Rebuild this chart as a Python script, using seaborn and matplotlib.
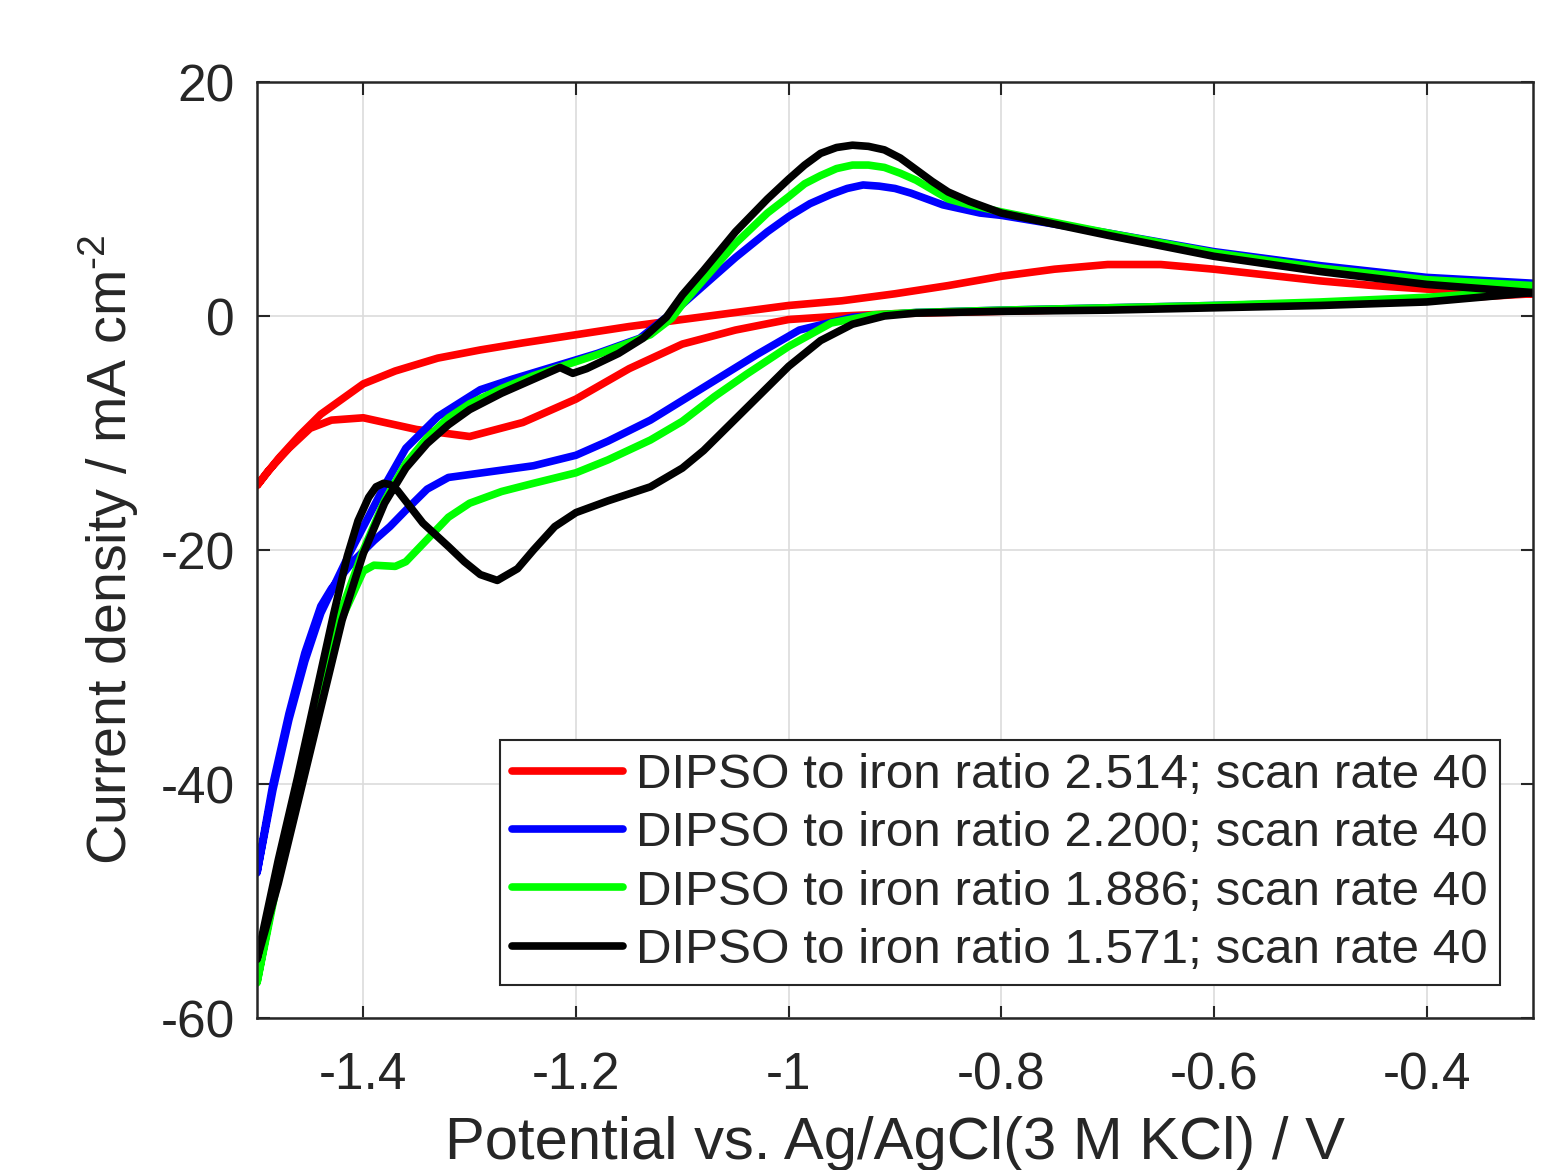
import pandas as pd
import seaborn as sns
import matplotlib.pyplot as plt

# 데이터 - 전위 / V, 전류밀도 / mA cm^-2
# 각 곡선: -0.3 V 에서 -1.5 V 로 갔다가 다시 -0.3 V 로 돌아오는 순서
red_E = [-0.30, -0.40, -0.50, -0.60, -0.70, -0.80, -0.90, -0.95, -1.00, -1.05, -1.10, -1.15,
         -1.20, -1.25, -1.30, -1.35, -1.40, -1.43, -1.45, -1.47, -1.49, -1.50,
         -1.48, -1.46, -1.44, -1.42, -1.40, -1.37, -1.33, -1.29, -1.25, -1.20, -1.15, -1.10,
         -1.05, -1.00, -0.95, -0.90, -0.85, -0.80, -0.75, -0.70, -0.65, -0.60, -0.55, -0.50,
         -0.45, -0.40, -0.35, -0.30]
red_j = [1.9, 1.4, 1.0, 0.8, 0.6, 0.4, 0.2, 0.0, -0.3, -1.2, -2.4, -4.5,
         -7.1, -9.1, -10.3, -9.7, -8.7, -8.9, -9.6, -11.3, -13.3, -14.5,
         -12.2, -10.2, -8.4, -7.1, -5.8, -4.7, -3.6, -2.9, -2.3, -1.6, -0.9, -0.3,
         0.3, 0.9, 1.3, 1.9, 2.6, 3.4, 4.0, 4.4, 4.4, 4.0, 3.5, 3.0,
         2.6, 2.3, 2.1, 1.9]

blue_E = [-0.30, -0.40, -0.50, -0.60, -0.70, -0.80, -0.88, -0.94, -0.99, -1.03, -1.08, -1.13,
          -1.17, -1.20, -1.24, -1.28, -1.32, -1.34, -1.36, -1.375, -1.39, -1.41, -1.43, -1.44,
          -1.455, -1.47, -1.485, -1.50,
          -1.485, -1.47, -1.455, -1.44, -1.413, -1.38, -1.36, -1.33, -1.29, -1.26, -1.22, -1.18,
          -1.14, -1.115, -1.10, -1.08, -1.05, -1.02, -1.00, -0.98, -0.96, -0.945, -0.93, -0.915,
          -0.90, -0.885, -0.87, -0.855, -0.84, -0.82, -0.80, -0.70, -0.60, -0.50, -0.40, -0.30]
blue_j = [2.0, 1.5, 1.1, 0.9, 0.7, 0.5, 0.3, -0.1, -1.2, -3.3, -6.1, -8.9,
          -10.7, -11.9, -12.8, -13.3, -13.8, -14.8, -16.6, -18.0, -19.2, -21.0, -23.3, -24.8,
          -28.8, -34.0, -40.0, -47.6,
          -40.5, -34.5, -29.5, -25.4, -20.3, -14.5, -11.3, -8.6, -6.3, -5.4, -4.3, -3.2,
          -1.9, -0.1, 1.0, 2.6, 5.0, 7.2, 8.5, 9.6, 10.4, 10.9, 11.2, 11.1,
          10.9, 10.5, 10.0, 9.5, 9.2, 8.8, 8.6, 7.1, 5.5, 4.3, 3.3, 2.8]

green_E = [-0.30, -0.40, -0.50, -0.60, -0.70, -0.80, -0.88, -0.92, -0.96, -1.00, -1.04, -1.07,
           -1.10, -1.13, -1.17, -1.20, -1.24, -1.27, -1.30, -1.32, -1.34, -1.36, -1.37, -1.39,
           -1.40, -1.42, -1.44, -1.46, -1.48, -1.50,
           -1.48, -1.46, -1.44, -1.42, -1.40, -1.38, -1.36, -1.34, -1.32, -1.30, -1.27, -1.24,
           -1.21, -1.18, -1.15, -1.13, -1.11, -1.10, -1.08, -1.05, -1.02, -1.00, -0.985, -0.97,
           -0.955, -0.94, -0.925, -0.91, -0.895, -0.88, -0.865, -0.85, -0.83, -0.80, -0.70,
           -0.60, -0.50, -0.40, -0.30]
green_j = [2.2, 1.6, 1.2, 0.9, 0.7, 0.5, 0.3, 0.1, -0.6, -2.6, -5.0, -6.9,
           -9.0, -10.6, -12.3, -13.4, -14.3, -15.0, -16.0, -17.2, -19.1, -21.0, -21.4, -21.3,
           -21.8, -25.8, -32.5, -40.0, -48.0, -57.0,
           -47.5, -39.5, -32.0, -25.0, -20.0, -15.8, -12.6, -10.4, -8.7, -7.5, -6.2, -5.1,
           -4.2, -3.3, -2.3, -1.6, -0.2, 1.0, 3.1, 6.2, 8.8, 10.2, 11.3, 12.0,
           12.6, 12.9, 12.9, 12.7, 12.2, 11.6, 10.8, 10.0, 9.5, 8.9, 7.1,
           5.4, 4.1, 3.1, 2.6]

black_E = [-0.30, -0.40, -0.50, -0.60, -0.70, -0.80, -0.88, -0.91, -0.94, -0.97, -1.00, -1.03,
           -1.05, -1.08, -1.10, -1.13, -1.17, -1.20, -1.22, -1.24, -1.255, -1.274, -1.29, -1.305,
           -1.32, -1.344, -1.368, -1.375, -1.381, -1.388, -1.395, -1.405, -1.415, -1.428, -1.445,
           -1.462, -1.48, -1.50,
           -1.48, -1.46, -1.44, -1.42, -1.40, -1.38, -1.36, -1.34, -1.32, -1.30, -1.27, -1.24,
           -1.215, -1.203, -1.19, -1.16, -1.137, -1.115, -1.10, -1.08, -1.05, -1.02, -1.00, -0.985,
           -0.97, -0.955, -0.94, -0.925, -0.91, -0.895, -0.88, -0.865, -0.85, -0.83, -0.80,
           -0.70, -0.60, -0.50, -0.40, -0.30]
black_j = [2.0, 1.2, 0.9, 0.7, 0.5, 0.4, 0.25, 0.0, -0.7, -2.1, -4.3, -7.0,
           -8.8, -11.5, -13.0, -14.6, -15.8, -16.8, -18.0, -20.0, -21.6, -22.6, -22.1, -21.0,
           -19.7, -17.7, -14.9, -14.4, -14.3, -14.6, -15.5, -17.5, -20.5, -25.5, -32.5,
           -39.5, -46.5, -55.0,
           -48.5, -41.0, -33.5, -26.0, -20.3, -16.0, -13.0, -10.9, -9.3, -8.0, -6.6, -5.4,
           -4.4, -4.9, -4.5, -3.2, -1.9, -0.1, 1.8, 3.9, 7.2, 10.0, 11.7, 12.9,
           13.9, 14.4, 14.6, 14.5, 14.2, 13.5, 12.5, 11.5, 10.6, 9.8, 8.8,
           6.9, 5.1, 3.8, 2.7, 2.0]

labels = ["DIPSO to iron ratio 2.514; scan rate 40",
          "DIPSO to iron ratio 2.200; scan rate 40",
          "DIPSO to iron ratio 1.886; scan rate 40",
          "DIPSO to iron ratio 1.571; scan rate 40"]
colors = ["#ff0000", "#0000ff", "#00ff00", "#000000"]

curves = [(red_E, red_j), (blue_E, blue_j), (green_E, green_j), (black_E, black_j)]
frames = []
for lab, (E, j) in zip(labels, curves):
    frames.append(pd.DataFrame({"E": E, "j": j, "series": lab}))
df = pd.concat(frames, ignore_index=True)

sns.set_style("ticks")
plt.rcParams['font.family'] = ['Liberation Sans', 'DejaVu Sans']
plt.rcParams['axes.unicode_minus'] = False
plt.rcParams['mathtext.fontset'] = 'custom'
plt.rcParams['mathtext.rm'] = 'Liberation Sans'

fig = plt.figure(figsize=(15.48, 11.70), dpi=100)
ax = fig.add_axes([257 / 1548, 1 - 1018 / 1170, (1533 - 257) / 1548, (1018 - 82) / 1170])

sns.lineplot(data=df, x="E", y="j", hue="series", palette=colors, sort=False,
             estimator=None, units="series", linewidth=5.5, ax=ax)
for ln in ax.get_lines():
    ln.set_solid_joinstyle("round")
    ln.set_solid_capstyle("round")

ax.set_xlim(-1.5, -0.3)
ax.set_ylim(-60, 20)
ax.set_xticks([-1.4, -1.2, -1.0, -0.8, -0.6, -0.4])
ax.set_xticklabels(["-1.4", "-1.2", "-1", "-0.8", "-0.6", "-0.4"])
ax.set_yticks([-60, -40, -20, 0, 20])
ax.set_yticklabels(["-60", "-40", "-20", "0", "20"])
ax.grid(True, color="#dcdcdc", linewidth=1.2)
ax.tick_params(direction="in", length=9, width=1.5, top=True, right=True,
               labelsize=37, colors="#262626")
ax.tick_params(axis="x", pad=24)
ax.tick_params(axis="y", pad=16)
for sp in ax.spines.values():
    sp.set_linewidth(1.8)
    sp.set_color("#262626")

ax.set_xlabel("Potential vs. Ag/AgCl(3 M KCl) / V", fontsize=43, color="#262626", labelpad=11)
ax.set_ylabel(r"Current density / mA cm$^{\text{-}2}$", fontsize=40, color="#262626", labelpad=14)

leg = ax.legend(loc="lower right", bbox_to_anchor=(0.974, 0.035), borderaxespad=0,
                fontsize=35.6, handlelength=2.25, handletextpad=0.25, labelspacing=0.27,
                borderpad=0.25, fancybox=False, framealpha=1, edgecolor="#262626")
leg.get_frame().set_linewidth(1.5)
for h in leg.get_lines():
    h.set_linewidth(5.5)

fig.savefig("out.png", dpi=100)
